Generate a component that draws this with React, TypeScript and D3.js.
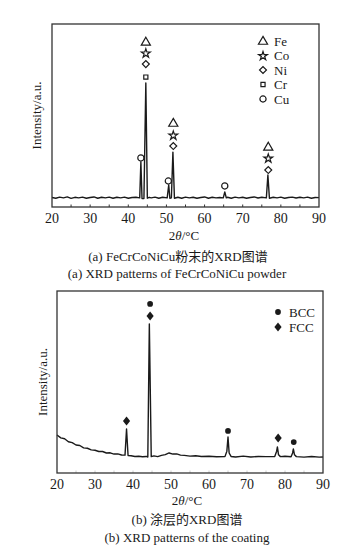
import React from 'react';
import * as d3 from 'd3';

// 2θ ticks shared by both panels
const thetaTicks = [20, 30, 40, 50, 60, 70, 80, 90];
const minorTicks = [25, 35, 45, 55, 65, 75, 85];

// (a) powder pattern: [2θ, intensity]
const powderTheta = [
  20, 21, 22, 23, 24, 25, 26, 27, 28, 29, 30, 31, 32, 33, 34, 35, 36, 37, 38, 39, 40, 41, 42,
  43.0, 43.3, 43.6, 44.1, 44.6, 45.0, 45.5, 46, 47, 48, 49, 50.2, 50.6, 50.9, 51.3, 51.7, 52.1,
  53, 54, 55, 56, 57, 58, 59, 60, 61, 62, 63, 64, 64.9, 65.3, 65.7, 66, 67, 68, 69, 70, 71, 72,
  73, 74, 75, 76.2, 76.6, 77.0, 78, 79, 80, 81, 82, 83, 84, 85, 86, 87, 88, 89, 90,
];
const powderIntensity = [
  5.2, 4.8, 5.4, 5.0, 5.5, 4.7, 5.3, 5.0, 5.4, 4.8, 5.2, 5.5, 4.8, 5.3, 5.0, 5.4, 4.8, 5.3, 5.0, 5.4, 4.8, 5.2, 5.3,
  5.0, 24.6, 4.6, 4.6, 67.8, 4.8, 5.3, 5.0, 5.4, 4.8, 5.3, 5.0, 12.0, 4.8, 5.0, 30.0, 4.8,
  5.3, 4.8, 5.4, 5.0, 5.3, 4.8, 5.2, 5.5, 4.8, 5.3, 5.0, 5.2, 5.0, 8.2, 5.0, 5.3, 4.8, 5.4, 5.0, 5.3, 4.8, 5.2,
  5.5, 4.9, 5.3, 5.0, 17.5, 4.8, 5.3, 5.0, 5.4, 4.8, 5.2, 5.4, 4.9, 5.3, 5.0, 5.4, 4.8, 5.2, 5.1,
];
// (a) phase markers: [2θ, level, symbol]
const powderMarkers: [number, number, string][] = [
  [44.6, 90.2, 'triangle'], [44.6, 84.2, 'star'], [44.6, 78.1, 'diamond'], [44.6, 71.0, 'square'],
  [51.8, 45.9, 'triangle'], [51.8, 39.3, 'star'], [51.8, 33.3, 'diamond'],
  [76.7, 32.8, 'triangle'], [76.7, 26.8, 'star'], [76.7, 20.2, 'diamond'],
  [43.3, 26.8, 'circle'], [50.5, 14.2, 'circle'], [65.3, 11.5, 'circle'],
];
const powderLegend = ['Fe', 'Co', 'Ni', 'Cr', 'Cu'];
const powderLegendSymbols = ['triangle', 'star', 'diamond', 'square', 'circle'];

// (b) coating pattern: [2θ, intensity]
const coatingTheta = [
  20, 21, 22, 23, 24, 25, 26, 27, 28, 29, 30, 31, 32, 33, 34, 35, 36, 37, 37.9, 38.3, 38.7,
  39.5, 40.5, 41.5, 42.5, 43.5, 43.9, 44.3, 44.8, 45.5, 46.5, 47.5, 48.5, 49.5, 50.5, 51.5,
  52.5, 53.5, 55, 56.5, 58, 60, 62, 64.2, 64.7, 65.0, 65.3, 65.8, 67, 69, 71, 73, 75, 77.3,
  77.8, 78.0, 78.3, 78.8, 80, 81.6, 82.0, 82.2, 82.5, 83, 85, 87, 89, 90,
];
const coatingIntensity = [
  20.9, 19.3, 18.8, 17.2, 16.7, 15.4, 15.1, 13.8, 13.6, 12.7, 12.5, 11.8, 11.8, 11.0, 11.1, 10.4, 10.5, 9.9, 9.8, 24.2, 9.6,
  9.5, 9.1, 9.2, 8.9, 9.1, 8.8, 81.9, 9.0, 9.4, 9.0, 9.7, 10.1, 11.0, 10.4, 10.5,
  9.8, 9.7, 9.3, 9.5, 9.1, 9.2, 8.9, 9.0, 12.0, 19.8, 11.0, 9.1, 8.8, 9.3, 8.8, 9.1, 9.0, 9.1,
  12.0, 14.3, 10.0, 9.0, 9.2, 8.9, 11.0, 13.2, 10.0, 9.0, 8.7, 9.1, 8.7, 8.8,
];
const coatingMarkers: [number, number, string][] = [
  [44.5, 92.9, 'dot'], [44.5, 86.3, 'rhomb'],
  [38.3, 28.6, 'rhomb'], [65.0, 23.1, 'dot'], [78.2, 19.2, 'rhomb'], [82.3, 17.0, 'dot'],
];
const coatingLegend = ['BCC', 'FCC'];
const coatingLegendSymbols = ['dot', 'rhomb'];

const serif = '"Liberation Serif", "Times New Roman", "Noto Sans CJK SC", serif';
const ink = '#1a1a1a';

function Marker({ kind, x, y }: { kind: string; x: number; y: number }) {
  const open = { fill: 'none', stroke: ink, strokeWidth: 1.2 };
  const solid = { fill: ink, stroke: 'none' };
  if (kind === 'triangle')
    return <path d={d3.symbol(d3.symbolTriangle, 36)()!} transform={`translate(${x},${y + 0.6})`} {...open} />;
  if (kind === 'star')
    return <path d={d3.symbol(d3.symbolStar, 24)()!} transform={`translate(${x},${y + 0.5})`} {...open} />;
  if (kind === 'diamond')
    return <path d={d3.symbol(d3.symbolSquare, 24)()!} transform={`translate(${x},${y}) rotate(45)`} {...open} />;
  if (kind === 'square')
    return <path d={d3.symbol(d3.symbolSquare, 17)()!} transform={`translate(${x},${y})`} {...open} />;
  if (kind === 'circle')
    return <path d={d3.symbol(d3.symbolCircle, 30)()!} transform={`translate(${x},${y})`} {...open} />;
  if (kind === 'dot')
    return <path d={d3.symbol(d3.symbolCircle, 26)()!} transform={`translate(${x},${y})`} {...solid} />;
  return <path d={d3.symbol(d3.symbolSquare, 26)()!} transform={`translate(${x},${y}) scale(1,1.25) rotate(45)`} {...solid} />;
}

type PanelProps = {
  left: number; right: number; top: number; bottom: number;
  theta: number[]; intensity: number[];
  markers: [number, number, string][];
  legend: string[]; legendSymbols: string[];
  legendX: number; legendY: number; legendStep: number;
  yLabelX: number; tickColor: string;
};

function Panel(p: PanelProps) {
  const x = d3.scaleLinear().domain([20, 90]).range([p.left, p.right]);
  const y = d3.scaleLinear().domain([0, 100]).range([p.bottom, p.top]);
  const line = d3.line<number>().x((_, i) => x(p.theta[i])).y((d) => y(d));
  const midY = (p.top + p.bottom) / 2;
  return (
    <g>
      <path d={line(p.intensity)!} fill="none" stroke={ink} strokeWidth={1.4} strokeLinejoin="round" />
      {minorTicks.concat(thetaTicks.slice(1, -1)).map((t) => (
        <line key={t} x1={x(t)} x2={x(t)} y1={p.bottom} y2={p.bottom - 2.5} stroke={p.tickColor} strokeWidth={1} />
      ))}
      <rect x={p.left} y={p.top} width={p.right - p.left} height={p.bottom - p.top} fill="none" stroke="#333" strokeWidth={1.3} />
      {thetaTicks.map((t) => (
        <text key={t} x={x(t)} y={p.bottom + 15.5} textAnchor="middle" fontSize={14} fontFamily={serif} fill={ink}>{t}</text>
      ))}
      <text transform={`translate(${p.yLabelX},${midY}) rotate(-90)`} textAnchor="middle" fontSize={13} fontFamily={serif} fill={ink}>
        Intensity/a.u.
      </text>
      {p.markers.map(([t, lv, k], i) => (
        <Marker key={i} kind={k} x={x(t)} y={y(lv)} />
      ))}
      {p.legend.map((name, i) => (
        <g key={name}>
          <Marker kind={p.legendSymbols[i]} x={p.legendX} y={p.legendY + i * p.legendStep} />
          <text x={p.legendX + 11} y={p.legendY + i * p.legendStep + 4.5} fontSize={13} fontFamily={serif} fill={ink}>{name}</text>
        </g>
      ))}
    </g>
  );
}

export default function App() {
  return (
    <svg width={353} height={550} style={{ position: 'absolute', left: 0, top: 0, background: '#fff' }}>
      <Panel
        left={52} right={319} top={24} bottom={207}
        theta={powderTheta} intensity={powderIntensity} markers={powderMarkers}
        legend={powderLegend} legendSymbols={powderLegendSymbols}
        legendX={263} legendY={41} legendStep={14.5} yLabelX={41} tickColor="#333"
      />
      <text x={184} y={240} textAnchor="middle" fontSize={13} fontFamily={serif} fill={ink}>
        2<tspan fontStyle="italic">θ</tspan>/°C
      </text>
      <text x={178} y={261} textAnchor="middle" fontSize={13} fontFamily={serif} fill={ink}>(a) FeCrCoNiCu粉末的XRD图谱</text>
      <text x={177} y={278} textAnchor="middle" fontSize={13} fontFamily={serif} fill={ink}>(a) XRD patterns of FeCrCoNiCu powder</text>

      <Panel
        left={57} right={323} top={291} bottom={473}
        theta={coatingTheta} intensity={coatingIntensity} markers={coatingMarkers}
        legend={coatingLegend} legendSymbols={coatingLegendSymbols}
        legendX={278} legendY={312} legendStep={15} yLabelX={47} tickColor="#ccc"
      />
      <text x={187} y={505} textAnchor="middle" fontSize={13} fontFamily={serif} fill={ink}>
        2<tspan fontStyle="italic">θ</tspan>/°C
      </text>
      <text x={187} y={524} textAnchor="middle" fontSize={13} fontFamily={serif} fill={ink}>(b) 涂层的XRD图谱</text>
      <text x={187} y={542} textAnchor="middle" fontSize={13} fontFamily={serif} fill={ink}>(b) XRD patterns of the coating</text>
    </svg>
  );
}
